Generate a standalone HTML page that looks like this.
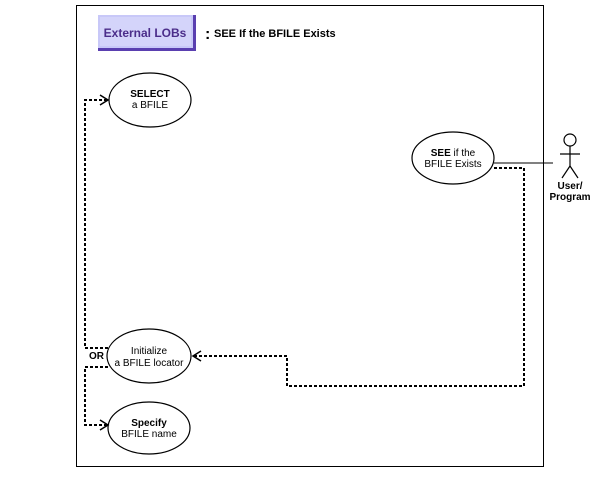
<!DOCTYPE html>
<html><head><style>body{margin:0;background:#fff}</style></head><body>
<svg width="600" height="475" xmlns="http://www.w3.org/2000/svg" font-family="Liberation Sans, sans-serif">
<rect x="76.5" y="5.5" width="467" height="461" fill="none" stroke="#000"/>
<rect x="98" y="15" width="98" height="36" fill="#5a3fb0"/>
<rect x="98" y="15" width="95" height="33" fill="#c8c8f8"/>
<rect x="100" y="17" width="91" height="29" fill="#d4d4fa"/>
<text x="145" y="37" font-size="12" font-weight="bold" fill="#4b2d8a" text-anchor="middle">External LOBs</text>
<text x="205" y="39" font-size="16" font-weight="bold">:</text>
<text x="214" y="37" font-size="11" font-weight="bold">SEE If the BFILE Exists</text>
<g fill="#fff" stroke="#000" stroke-width="1.2">
<ellipse cx="150" cy="100" rx="41" ry="27"/>
<ellipse cx="453" cy="158" rx="41" ry="26"/>
<ellipse cx="149" cy="356" rx="42" ry="27"/>
<ellipse cx="149" cy="428" rx="41" ry="26"/>
</g>
<g font-size="10" text-anchor="middle">
<text x="150" y="97" font-weight="bold">SELECT</text><text x="150" y="108">a BFILE</text>
<text x="453" y="156"><tspan font-weight="bold">SEE</tspan> if the</text><text x="453" y="167">BFILE Exists</text>
<text x="149" y="354">Initialize</text><text x="149" y="366">a BFILE locator</text>
<text x="149" y="426" font-weight="bold">Specify</text><text x="149" y="437">BFILE name</text>
<text x="570" y="189" font-weight="bold">User/</text><text x="570" y="200" font-weight="bold">Program</text>
</g>
<text x="89" y="359" font-size="10" font-weight="bold">OR</text>
<line x1="494" y1="163" x2="553" y2="163" stroke="#000"/>
<g fill="none" stroke="#000" stroke-width="2" stroke-dasharray="3,2">
<polyline points="494,168 524,168 524,386 287,386 287,356 194,356"/>
<polyline points="108,348 85,348 85,100 107,100"/>
<polyline points="108,367 85,367 85,425 107,425"/>
</g>
<g fill="none" stroke="#000" stroke-width="1.5">
<polyline points="100,95 108,100 100,105"/>
<polyline points="100,420 108,425 100,430"/>
<polyline points="201,351 193,356 201,361"/>
</g>
<g fill="none" stroke="#000" stroke-width="1.2">
<circle cx="570" cy="140" r="6"/>
<line x1="570" y1="146" x2="570" y2="166"/>
<line x1="560" y1="154" x2="580" y2="154"/>
<polyline points="562,178 570,166 578,178"/>
</g>
</svg>
</body></html>
